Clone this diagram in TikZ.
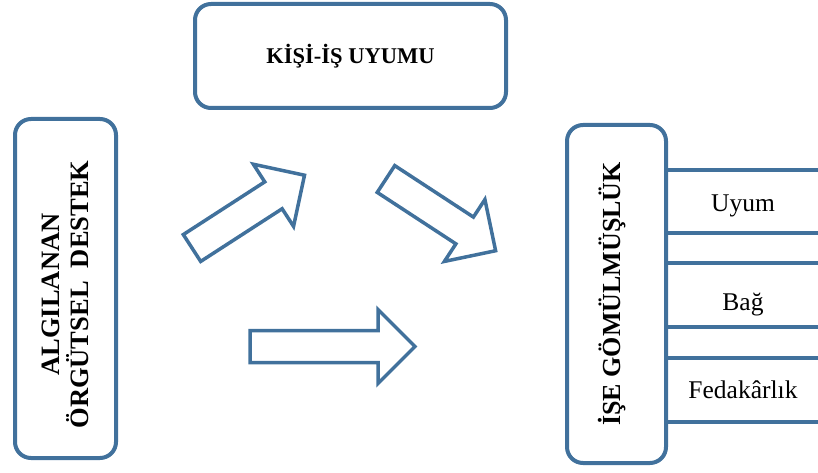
\documentclass[tikz,border=0pt]{standalone}
\usepackage{fontspec}
\setmainfont{Liberation Serif}
\usetikzlibrary{calc}
\definecolor{boxblue}{RGB}{65,113,156}
\tikzset{
    box/.style={draw=boxblue, line width=4pt, rounded corners=16pt, fill=white},
    title/.style={font=\fontsize{26.5}{29}\selectfont\bfseries, align=center},
    item/.style={font=\fontsize{25.5}{30}\selectfont, anchor=base},
    pics/bigarrow/.style={code={
        \draw[boxblue, line width=3.5pt, line join=miter]
        (0,-16) -- (#1-37,-16) -- (#1-37,-37) -- (#1,0) -- (#1-37,37) -- (#1-37,16) -- (0,16) -- cycle;
    }}
}

\begin{document}
\begin{tikzpicture}[x=1pt,y=1pt]

    \useasboundingbox (0,0) rectangle (818,472);

    \node[box, minimum width=101pt, minimum height=339pt] (algilanan) at (65.5,183.5) {};
    \node[title, rotate=90] at ($(algilanan)+(0,-6)$) {ALGILANAN\\ÖRGÜTSEL\ \ DESTEK};

    \node[box, minimum width=311pt, minimum height=104pt] (kisiis) at (350.5,416) {};
    \node[title, font=\fontsize{22.5}{27}\selectfont\bfseries] at (kisiis) {KİŞİ-İŞ UYUMU};

    \node[box, minimum width=99pt, minimum height=338pt] (gomulmus) at (616.5,178) {};
    \node[title, rotate=90, font=\fontsize{26}{29}\selectfont\bfseries] at ($(gomulmus)+(-4,0)$) {İŞE GÖMÜLMÜŞLÜK};

    % block arrows
    \pic[rotate=32.9] at (192,224) {bigarrow=134};
    \pic[rotate=-33.2] at (386,293) {bigarrow=131};
    \pic at (250,125.5) {bigarrow=165};

    % sub dimensions
    \foreach \y in {302,239,209,145,114,50}
    \draw[boxblue, line width=4pt] (gomulmus.east |- 0,\y) -- (818,\y);

    \node[item] (uyum) at (743,261) {Uyum};
    \node[item] (bag) at (743,162) {Bağ};
    \node[item] (fedakarlik) at (743,74) {Fedakârlık};

\end{tikzpicture}
\end{document}
